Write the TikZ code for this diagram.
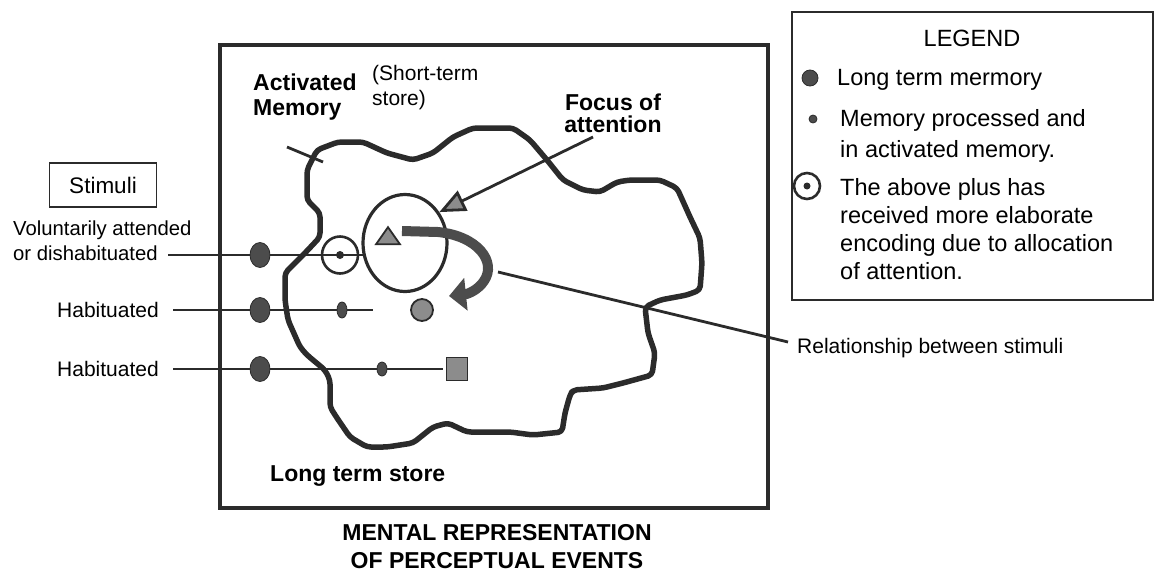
\documentclass[tikz,border=0pt]{standalone}
\usepackage{fontspec}
\setmainfont{Liberation Sans}
\usetikzlibrary{arrows.meta,shapes.geometric}
\definecolor{ink}{HTML}{2B2B2B}
\definecolor{dotgray}{HTML}{4C4C4C}
\definecolor{hatch}{HTML}{8C8C8C}
\begin{document}
\begin{tikzpicture}[x=1pt,y=-1pt,
  txt/.style={inner sep=0pt, font=\fontsize{21}{25}\selectfont},
  btxt/.style={inner sep=0pt, font=\fontsize{23}{26}\selectfont\bfseries},
  legtxt/.style={inner sep=0pt, font=\fontsize{23.5}{28}\selectfont, anchor=base west},
  ltm/.style={ellipse, inner sep=0pt, minimum width=20pt, minimum height=25pt, fill=dotgray, draw=ink, line width=0.8pt},
  proc/.style={ellipse, inner sep=0pt, minimum width=10pt, fill=dotgray, draw=ink, line width=0.8pt},
  stimline/.style={draw=ink, line width=2.6pt},
  thinline/.style={draw=ink, line width=2.8pt},
  shaded/.style={fill=hatch, draw=ink, line width=1.8pt},
  frame/.style={draw=ink, line width=3.5pt}
]
\useasboundingbox (0,0) rectangle (1156,576);

% outer frame of the mental representation
\draw[frame] (220,45) rectangle (768,508);

% stimulus rows (drawn first, dots go on top)
\coordinate (r1a) at (168,255); \coordinate (r1b) at (364,255);
\coordinate (r2a) at (173,310); \coordinate (r2b) at (373,310);
\coordinate (r3a) at (173,369); \coordinate (r3b) at (443,369);
\draw[stimline] (r1a) -- (r1b);
\draw[stimline] (r2a) -- (r2b);
\draw[stimline] (r3a) -- (r3b);

% activated memory region
\draw[draw=ink, line width=5.5pt, line join=round, rounded corners=4pt]
  (312,160) -- (317,150) -- (338,142) -- (363,142) -- (387,153) -- (413,160)
  -- (433,153) -- (453,137) -- (473,128) -- (513,128) -- (530,140) -- (547,160)
  -- (563,180) -- (583,190) -- (600,192) -- (617,182) -- (630,180) -- (660,180)
  -- (677,188) -- (690,217) -- (700,238) -- (702,263) -- (700,290) -- (687,295)
  -- (660,300) -- (645,307) -- (648,333) -- (655,353) -- (652,375) -- (623,383)
  -- (603,388) -- (573,390) -- (570,395) -- (565,413) -- (562,432) -- (533,435)
  -- (510,432) -- (467,432) -- (448,423) -- (433,427) -- (413,443) -- (387,447)
  -- (367,447) -- (350,437) -- (337,418) -- (330,407) -- (330,380) -- (325,370)
  -- (307,355) -- (300,347) -- (288,320) -- (285,300) -- (285,273) -- (305,253)
  -- (320,237) -- (320,213) -- (307,200) -- (307,170) -- cycle;

% long term memory dots
\node[ltm] (m1) at (260,255) {};
\node[ltm] (m2) at (260,310) {};
\node[ltm] (m3) at (260,369) {};

% processed items
\node[ellipse, draw=ink, line width=2.6pt, minimum width=36pt, minimum height=37pt, inner sep=0pt] (c1) at (340,255) {};
\node[circle, fill=ink, minimum size=8pt, inner sep=0pt] (c1dot) at (340,255) {};
\node[proc, minimum height=16pt] (p2) at (342,310) {};
\node[proc, minimum height=14pt] (p3) at (382,369) {};

% focus of attention
\node[ellipse, draw=ink, line width=3.2pt, minimum width=84pt, minimum height=97pt, inner sep=0pt] (focus) at (405,243) {};
\node[isosceles triangle, isosceles triangle apex angle=70, shape border rotate=90, shaded, minimum height=17pt, inner sep=0pt] (tri) at (388,238) {};
\node[circle, shaded, minimum size=22pt, inner sep=0pt] (hc) at (422,310) {};
\node[rectangle, shaded, minimum width=21pt, minimum height=23pt, inner sep=0pt] (sq) at (457,369) {};

% curved relationship arrow
\coordinate (ca) at (402,231);
\coordinate (cb) at (449,296);
\draw[draw=dotgray, line width=10pt, -{Triangle[length=17pt,width=32pt,fill=dotgray]}]
  (ca) -- (438,232) .. controls (478,236) and (497,262) .. (484,281)
  .. controls (478,290) and (468,294) .. (cb);

% labels inside the frame
\node[btxt, anchor=base west] (act1) at (253,90) {Activated};
\node[btxt, anchor=base west] (act2) at (253,115) {Memory};
\node[txt, anchor=base west] (st1) at (372,80) {(Short-term};
\node[txt, anchor=base west] (st2) at (372,105) {store)};
\node[btxt, anchor=base] (foc1) at (613,110) {Focus of};
\node[btxt, anchor=base] (foc2) at (613,132) {attention};
\node[btxt, anchor=base west] (lts) at (270,481) {Long term store};

% pointer lines
\coordinate (amA) at (287,147);
\coordinate (amB) at (323,162);
\draw[thinline] (amA) -- (amB);
\coordinate (fa) at (593,137);
\draw[thinline, -{Triangle[length=26pt,width=22pt,fill=hatch]}] (fa) -- (focus.42);
\coordinate (rla) at (498,272);
\coordinate (rlb) at (788,342);
\draw[thinline] (rla) -- (rlb);
\node[txt, anchor=base west] (rel) at (797,353) {Relationship between stimuli};

% stimuli labels
\node[txt, font=\fontsize{22.5}{26}\selectfont, draw=ink, line width=1.8pt, minimum width=107pt, minimum height=44pt] (stim) at (103,185) {Stimuli};
\node[txt, font=\fontsize{20.3}{25}\selectfont, anchor=base west] (vol1) at (13,235) {Voluntarily attended};
\node[txt, font=\fontsize{20.3}{25}\selectfont, anchor=base west] (vol2) at (13,260) {or dishabituated};
\node[txt, anchor=east] (hab1) at (159,310) {Habituated};
\node[txt, anchor=east] (hab2) at (159,369) {Habituated};

% title
\node[btxt, anchor=base] (t1) at (497,540) {MENTAL REPRESENTATION};
\node[btxt, anchor=base] (t2) at (497,568) {OF PERCEPTUAL EVENTS};

% legend
\draw[draw=ink, line width=2.5pt] (792,12) rectangle (1153,300);
\node[legtxt, anchor=base] (lg) at (972,46) {LEGEND};
\node[circle, fill=dotgray, draw=ink, line width=0.8pt, minimum size=16pt, inner sep=0pt] (lg1) at (810,78) {};
\node[legtxt] (lgt1) at (837,85) {Long term mermory};
\node[circle, fill=dotgray, draw=ink, line width=0.8pt, minimum size=8pt, inner sep=0pt] (lg2) at (813,119) {};
\node[legtxt] (lgt2) at (840,126) {Memory processed and};
\node[legtxt] (lgt3) at (840,157) {in activated memory.};
\node[circle, draw=ink, line width=2.6pt, minimum size=26pt, inner sep=0pt] (lg3) at (807,186) {};
\node[circle, fill=ink, minimum size=7pt, inner sep=0pt] (lg3dot) at (807,186) {};
\node[legtxt] (lgt4) at (840,195) {The above plus has};
\node[legtxt] (lgt5) at (840,223) {received more elaborate};
\node[legtxt] (lgt6) at (840,251) {encoding due to allocation};
\node[legtxt] (lgt7) at (840,279) {of attention.};
\end{tikzpicture}
\end{document}
